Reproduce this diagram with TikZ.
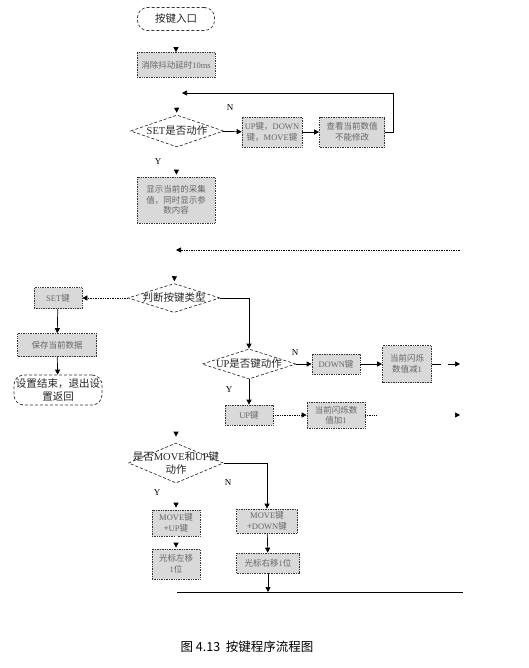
\documentclass[tikz,border=0pt]{standalone}
\usepackage{fontspec}
\setmainfont{Noto Sans CJK SC}
\newfontfamily\lat{Liberation Serif}
\usetikzlibrary{shapes.geometric,arrows.meta}
\begin{document}
\begin{tikzpicture}[x=1pt,y=-1pt,line width=0.7pt,
	box/.style={draw=black!80,densely dotted,fill=black!15,text=black!60,font=\fontsize{8.5}{10.5}\selectfont,align=center,inner sep=1pt},
	ask/.style={draw=black!80,densely dashed,diamond,inner sep=0pt,fill=white},
	asktext/.style={font=\fontsize{10.5}{13}\selectfont,align=center,text=black!85},
	term/.style={draw=black!80,densely dashed,rounded corners=10pt,font=\fontsize{10.5}{13}\selectfont,align=center,inner sep=1pt,text=black!85},
	tip/.style={-{Triangle[length=5pt,width=5pt]}},
	ghost/.style={draw=white,-{Triangle[black,length=5pt,width=5pt]}},
	lbl/.style={font=\lat\fontsize{9}{10}\selectfont}]
	\useasboundingbox[fill=white] (0,0) rectangle (528,668);

	\node[term,minimum width=77pt,minimum height=23pt] (entry) at (176,19) {按键入口};
	\node[box,minimum width=78pt,minimum height=25pt] (delay) at (176,65) {消除抖动延时{\lat 10ms}};
	\node[ask,minimum width=93pt,minimum height=32pt,label={[asktext]center:{\lat SET}是否动作}] (set) at (177,131) {};
	\node[box,minimum width=60pt,minimum height=30pt] (keys) at (272,132) {{\lat UP}键，{\lat DOWN}\\键，{\lat MOVE}键};
	\node[box,minimum width=65pt,minimum height=30pt] (look) at (352,132) {查看当前数值\\不能修改};
	\node[box,minimum width=78pt,minimum height=46pt] (show) at (176,200) {显示当前的采集\\值，同时显示参\\数内容};
	\coordinate (back) at (177,93);
	\coordinate (ret) at (460,250);
	\coordinate (turn) at (176,250);

	\node[ask,minimum width=92pt,minimum height=29pt,label={[asktext]center:判断按键类型}] (kind) at (174,298) {};
	\node[box,minimum width=48pt,minimum height=21pt] (setk) at (58,298) {{\lat SET}键};
	\node[box,minimum width=79pt,minimum height=23pt] (save) at (57,345) {保存当前数据};
	\node[term,minimum width=88pt,minimum height=30pt] (quit) at (58,390) {设置结束，退出设\\置返回};
	\node[ask,minimum width=94pt,minimum height=30pt,label={[asktext]center:{\lat UP}是否键动作}] (up) at (249,364) {};
	\node[box,minimum width=48pt,minimum height=20pt] (down) at (336,364) {{\lat DOWN}键};
	\node[box,minimum width=49pt,minimum height=37pt] (dec) at (407,364) {当前闪烁\\数值减{\lat 1}};
	\coordinate (decout) at (460,364);
	\node[box,minimum width=48pt,minimum height=20pt] (upk) at (249,415) {{\lat UP}键};
	\node[box,minimum width=58pt,minimum height=26pt] (inc) at (336,415) {当前闪烁数\\值加{\lat 1}};
	\coordinate (incgap) at (377,415);
	\coordinate (incout) at (460,415);

	\coordinate (mvin) at (176,420);
	\node[ask,minimum width=95pt,minimum height=40pt,label={[asktext]center:是否{\lat MOVE}和{\lat UP}键\\动作}] (move) at (176,463) {};
	\node[box,minimum width=48pt,minimum height=26pt] (mvup) at (176,523) {{\lat MOVE}键\\+{\lat UP}键};
	\node[box,minimum width=48pt,minimum height=30pt] (left) at (176,564) {光标左移\\{\lat 1}位};
	\node[box,minimum width=61pt,minimum height=24pt] (mvdn) at (267,521) {{\lat MOVE}键\\+{\lat DOWN}键};
	\node[box,minimum width=63pt,minimum height=20pt] (right) at (268,563) {光标右移{\lat 1}位};
	\coordinate (endl) at (177,592);
	\coordinate (endr) at (463,592);

	\draw[ghost] (entry) -- (delay);
	\draw[ghost,shorten >=2pt] (delay) -- (set);
	\draw[ghost,shorten >=2pt] (set) -- (show);
	\draw[ghost,shorten >=2pt] (show) -- (kind);
	\draw[ghost,shorten >=6pt] (mvin) -- (move);
	\draw[ghost,shorten >=2pt] (move) -- (mvup);
	\draw[ghost,shorten >=1pt] (mvup) -- (left);

	\draw[tip] (set) -- (keys);
	\draw[tip] (keys) -- (look);
	\draw[tip] (look.east) -- ++(8,0) |- ([xshift=5pt]back);
	\draw[tip,densely dotted] (ret) -- (turn);
	\draw[tip,densely dotted] (kind) -- (setk);
	\draw[tip] (kind.east) -| (up);
	\draw[tip] (setk) -- (save);
	\draw[tip] (save) -- (quit);
	\draw[tip] (up) -- (down);
	\draw[tip] (down) -- (dec);
	\draw[tip,dash pattern=on 9pt off 7pt on 20pt] (dec) -- (decout);
	\draw[tip] (up) -- (upk);
	\draw[tip,densely dotted] (upk) -- (inc);
	\draw[densely dotted] (inc) -- (incgap);
	\draw[ghost] (incgap) -- (incout);
	\draw[tip] (move.east) -| (mvdn);
	\draw[tip] (mvdn) -- (right);
	\draw (endl) -- (endr);
	\draw[tip] (right) -- (right |- endl);

	\node[lbl] (n1) at (230,108) {N};
	\node[lbl] (y1) at (158,162) {Y};
	\node[lbl] (n2) at (295,353) {N};
	\node[lbl] (y2) at (229,390) {Y};
	\node[lbl] (n3) at (228,483) {N};
	\node[lbl] (y3) at (157,493) {Y};

	\node[font=\fontsize{12.5}{14}\selectfont] (cap) at (247,647) {图 4.13\ \ 按键程序流程图};
\end{tikzpicture}
\end{document}
